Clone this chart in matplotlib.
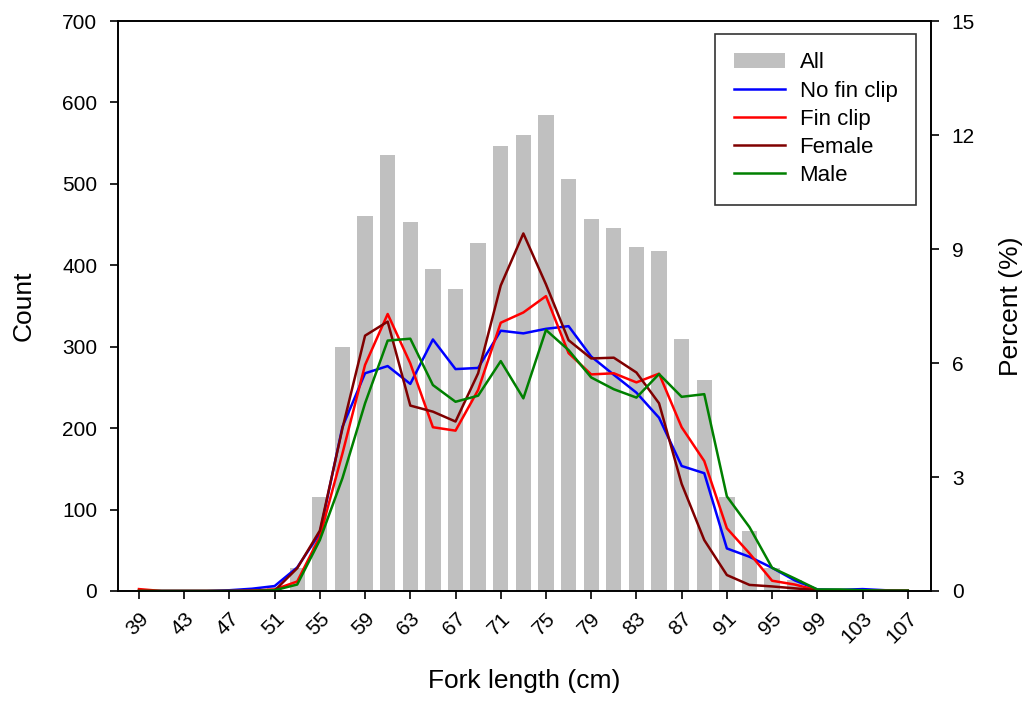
import numpy as np
import matplotlib
matplotlib.use('Agg')
import matplotlib.pyplot as plt

plt.rcParams['font.family'] = ['Liberation Sans', 'DejaVu Sans']

# fork length classes (cm)
length = np.arange(39, 109, 2)

# count of all fish
all_count = [0, 0, 0, 0, 1, 2, 5, 28, 115, 300, 460, 535, 453, 396, 371, 428, 547, 560,
             585, 506, 457, 446, 422, 418, 310, 259, 115, 74, 28, 14, 3, 1, 1, 0, 0]

# percent by group
no_fin_clip = [0, 0, 0, 0, 0.02, 0.06, 0.13, 0.62, 1.52, 4.32, 5.73, 5.92, 5.45, 6.62, 5.84, 5.87,
               6.85, 6.78, 6.90, 6.97, 6.17, 5.69, 5.22, 4.56, 3.29, 3.10, 1.12, 0.90, 0.61, 0.28,
               0.04, 0.03, 0.05, 0.02, 0.01]
fin_clip = [0.05, 0, 0, 0, 0, 0.01, 0.04, 0.25, 1.43, 3.62, 5.95, 7.29, 5.99, 4.31, 4.22, 5.29,
            7.06, 7.33, 7.76, 6.26, 5.70, 5.73, 5.49, 5.72, 4.31, 3.42, 1.65, 0.99, 0.27, 0.17,
            0.02, 0.01, 0.01, 0.01, 0.01]
female = [0, 0, 0, 0, 0, 0, 0.01, 0.60, 1.59, 4.28, 6.72, 7.09, 4.88, 4.72, 4.46, 5.73,
          8.04, 9.41, 8.07, 6.60, 6.12, 6.14, 5.75, 4.94, 2.82, 1.34, 0.42, 0.16, 0.12, 0.07,
          0.02, 0, 0, 0, 0]
male = [0, 0, 0, 0, 0, 0, 0.02, 0.17, 1.34, 2.97, 4.94, 6.59, 6.64, 5.42, 4.98, 5.14,
        6.05, 5.07, 6.87, 6.34, 5.62, 5.31, 5.09, 5.71, 5.11, 5.18, 2.49, 1.68, 0.61, 0.33,
        0.04, 0.04, 0.02, 0.01, 0.01]

tick_vals = np.arange(39, 108, 4)

fig = plt.figure(figsize=(10.28, 7.06), dpi=100)
ax = fig.add_axes([0.1148, 0.1629, 0.7908, 0.8073])
ax2 = ax.twinx()

bars = ax.bar(length, all_count, width=1.35, color='#c0c0c0', label='All', zorder=1)
l1, = ax2.plot(length, no_fin_clip, color='#0000ff', lw=1.8, label='No fin clip')
l2, = ax2.plot(length, fin_clip, color='#ff0000', lw=1.8, label='Fin clip')
l3, = ax2.plot(length, female, color='#800000', lw=1.8, label='Female')
l4, = ax2.plot(length, male, color='#008000', lw=1.8, label='Male')

ax.set_xlim(37.15, 109.05)
ax.set_ylim(0, 700)
ax2.set_ylim(0, 15)
ax.set_yticks(np.arange(0, 701, 100))
ax2.set_yticks(np.arange(0, 16, 3))
ax.set_xticks(tick_vals)
ax.set_xticklabels([str(v) for v in tick_vals], rotation=45, ha='right', va='top',
                   rotation_mode='anchor')

for a in (ax, ax2):
    a.tick_params(direction='out', length=6, width=1.2, labelsize=15, colors='black', pad=9)
    for s in a.spines.values():
        s.set_linewidth(1.2)
ax.tick_params(axis='x', pad=7)

ax.set_xlabel('Fork length (cm)', fontsize=19, labelpad=16)
ax.set_ylabel('Count', fontsize=19, labelpad=19)
ax2.set_ylabel('Percent (%)', fontsize=19, labelpad=17)

leg = ax2.legend([bars, l1, l2, l3, l4], ['All', 'No fin clip', 'Fin clip', 'Female', 'Male'],
                 loc='upper right', bbox_to_anchor=(0.982, 0.978), fontsize=16, frameon=True,
                 fancybox=False, edgecolor='black', handlelength=2.3, labelspacing=0.32,
                 borderpad=0.85, handletextpad=0.65, borderaxespad=0)
leg.get_frame().set_linewidth(1.2)

fig.savefig('out.png', dpi=100)
